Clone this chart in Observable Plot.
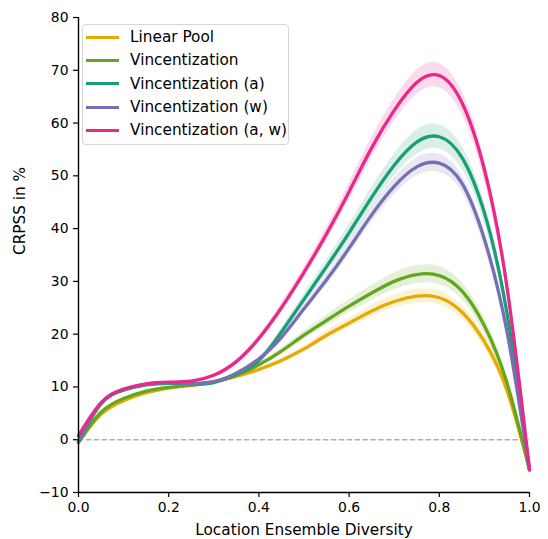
<!DOCTYPE html>
<html>
<head>
<meta charset="utf-8">
<script src="https://cdn.jsdelivr.net/npm/d3@7"></script>
<script src="https://cdn.jsdelivr.net/npm/@observablehq/plot@0.6"></script>
<style>
  body { margin: 0; background: #fff; }
  #wrap { position: relative; width: 548px; height: 539px; font-family: "DejaVu Sans", sans-serif; }
  #legend { position: absolute; left: 82px; top: 24px; width: 207px; height: 121px; box-sizing: border-box;
            border: 1px solid #d6d6d6; border-radius: 4px; background: rgba(255,255,255,0.85); padding-top: 0.5px; }
  .row { height: 23.33px; display: flex; align-items: center; font-size: 15.3px; color: #000; white-space: nowrap; }
  .sw { width: 33px; height: 3.3px; margin-left: 3px; margin-right: 11px; flex: none; }
</style>
</head>
<body>
<div id="wrap"><div id="legend"></div></div>
<script>
const xs         = [0, 0.05, 0.1, 0.15, 0.2, 0.25, 0.3, 0.35, 0.4, 0.45, 0.5, 0.55, 0.6, 0.65, 0.7, 0.75, 0.8, 0.85, 0.9, 0.95, 1.0];
const linearPool = [-0.5, 4.8, 7.4, 8.9, 9.8, 10.4, 11.0, 12.0, 13.3, 15.0, 17.2, 19.8, 22.1, 24.4, 26.2, 27.2, 26.9, 24.2, 18.6, 9.4, -5.7];
const vinc       = [-0.5, 5.2, 7.8, 9.2, 9.9, 10.3, 10.9, 12.2, 14.2, 16.8, 19.8, 22.6, 25.3, 27.8, 30.0, 31.3, 31.1, 28.2, 21.6, 10.8, -5.7];
const vincA      = [-0.5, 6.8, 9.4, 10.4, 10.7, 10.6, 10.8, 12.4, 15.0, 20.4, 26.6, 32.8, 39.2, 45.9, 52.0, 56.4, 57.4, 53.5, 43.0, 24.0, -5.7];
const vincW      = [-0.3, 7.0, 9.5, 10.5, 10.8, 10.7, 11.0, 12.6, 15.3, 19.4, 24.8, 30.3, 36.3, 42.6, 48.0, 51.7, 52.4, 48.6, 38.0, 20.5, -5.7];
const vincAW     = [0.8, 7.0, 9.6, 10.6, 10.9, 11.1, 12.2, 14.8, 19.2, 25.0, 31.7, 39.0, 47.0, 55.3, 62.4, 67.7, 69.0, 63.9, 51.2, 29.0, -5.7];
// half-widths of the shaded uncertainty bands
const hwLinearPool = [0, 0.1, 0.1, 0.1, 0.1, 0.2, 0.2, 0.3, 0.4, 0.5, 0.6, 0.8, 0.9, 1.1, 1.2, 1.3, 1.3, 1.3, 1.2, 0.9, 0.3];
const hwVinc       = [0, 0.1, 0.1, 0.2, 0.2, 0.2, 0.2, 0.3, 0.4, 0.6, 0.8, 1.0, 1.2, 1.4, 1.6, 1.7, 1.7, 1.6, 1.5, 1.1, 0.4];
const hwVincA      = [0, 0.1, 0.2, 0.2, 0.2, 0.2, 0.3, 0.4, 0.6, 0.8, 1.0, 1.3, 1.6, 1.9, 2.1, 2.3, 2.3, 2.2, 2.0, 1.5, 0.5];
const hwVincW      = [0, 0.1, 0.1, 0.2, 0.2, 0.2, 0.2, 0.3, 0.4, 0.6, 0.8, 1.0, 1.2, 1.4, 1.6, 1.7, 1.7, 1.6, 1.5, 1.1, 0.4];
const hwVincAW     = [0, 0.1, 0.2, 0.2, 0.2, 0.2, 0.3, 0.4, 0.6, 0.8, 1.0, 1.3, 1.6, 1.9, 2.1, 2.3, 2.3, 2.2, 2.0, 1.5, 0.5];

const names  = ["Linear Pool", "Vincentization", "Vincentization (a)", "Vincentization (w)", "Vincentization (a, w)"];
const colors = ["#e6ab02", "#66a61e", "#1b9e77", "#7570b3", "#e7298a"];
const values = [linearPool, vinc, vincA, vincW, vincAW];
const halfw  = [hwLinearPool, hwVinc, hwVincA, hwVincW, hwVincAW];

const xTicks = [0, 0.2, 0.4, 0.6, 0.8, 1.0];
const yTicks = [-10, 0, 10, 20, 30, 40, 50, 60, 70, 80];

const data = names.flatMap((name, i) => xs.map((x, j) => ({
  name, color: colors[i], x, y: values[i][j], lo: values[i][j] - halfw[i][j], hi: values[i][j] + halfw[i][j]
})));

const fmtY = d3.format("d");
const fmtX = d3.format(".1f");
const FS = 13.9;
const FL = 15.3;

const marks = [];
names.forEach((name, i) => {
  const d = data.filter(r => r.name === name);
  marks.push(Plot.areaY(d, {x: "x", y1: "lo", y2: "hi", fill: colors[i], fillOpacity: 0.17, curve: "natural"}));
  if (i === 0) marks.push(Plot.ruleY([0], {stroke: "#b0b0b0", strokeWidth: 1.5, strokeDasharray: "5.5,2.4"}));
});
names.forEach((name, i) => {
  const d = data.filter(r => r.name === name);
  marks.push(Plot.line(d, {x: "x", y: "y", stroke: colors[i], strokeWidth: 3.3, curve: "natural"}));
});

const chart = Plot.plot({
  width: 548, height: 539,
  marginLeft: 78, marginRight: 19, marginTop: 17, marginBottom: 47,
  style: {fontFamily: "DejaVu Sans, sans-serif", fontSize: FS + "px", color: "#000", background: "#fff"},
  x: {domain: [0, 1]},
  y: {domain: [-10, 80]},
  marks: [
    ...marks,
    Plot.axisX({ticks: xTicks, tickFormat: fmtX, tickSize: 5, tickPadding: 5, strokeWidth: 1.2, fontSize: FS, label: null}),
    Plot.axisY({ticks: yTicks, tickFormat: fmtY, tickSize: 5, tickPadding: 5, strokeWidth: 1.2, fontSize: FS, label: null}),
    Plot.ruleX([0], {stroke: "#000", strokeWidth: 1.4}),
    Plot.ruleY([-10], {stroke: "#000", strokeWidth: 1.4}),
    Plot.text(["Location Ensemble Diversity"], {frameAnchor: "bottom", dy: 38, fontSize: FL, lineAnchor: "middle"}),
    Plot.text(["CRPSS in %"], {frameAnchor: "left", dx: -58, rotate: -90, fontSize: FL})
  ]
});
document.getElementById("wrap").prepend(chart);

const legend = document.getElementById("legend");
names.forEach((name, i) => {
  const row = document.createElement("div");
  row.className = "row";
  const sw = document.createElement("div");
  sw.className = "sw";
  sw.style.background = colors[i];
  const t = document.createElement("span");
  t.textContent = name;
  row.append(sw, t);
  legend.append(row);
});
</script>
</body>
</html>
